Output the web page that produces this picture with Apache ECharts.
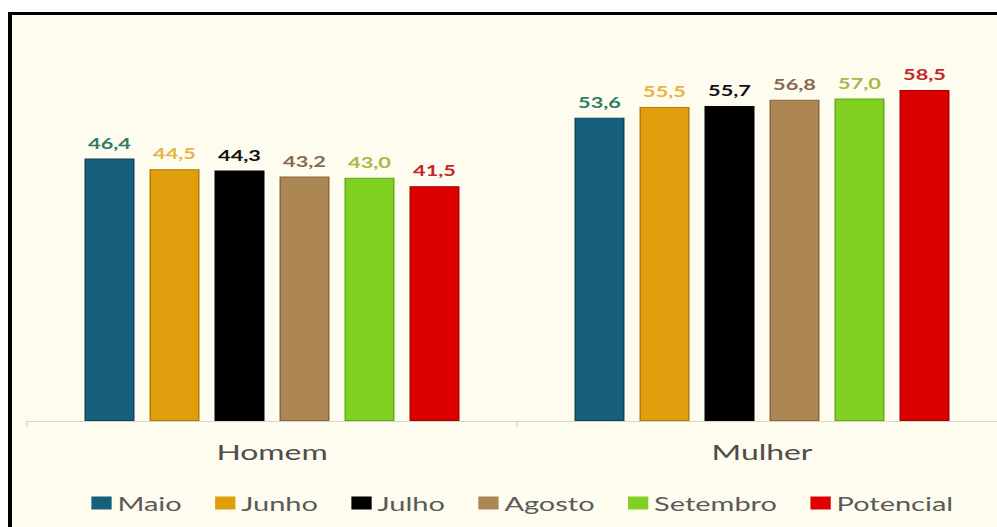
<!DOCTYPE html>
<html>
<head>
<meta charset="utf-8">
<script src="https://cdn.jsdelivr.net/npm/echarts@6/dist/echarts.min.js"></script>
<style>
  html, body { margin: 0; padding: 0; background: #ffffff; overflow: hidden; width: 997px; height: 527px; }
  #frame {
    position: absolute; left: 8px; top: 12px; right: -20px; bottom: -20px;
    border-left: 4px solid #000; border-top: 3px solid #000;
    background: #fefcef;
  }
  /* chart is laid out narrow and widened horizontally */
  #chart {
    position: absolute; left: 0; top: 0; width: 700px; height: 527px;
    transform: scaleX(1.45); transform-origin: 0 0;
  }
</style>
</head>
<body>
<div id="frame"></div>
<div id="chart"></div>
<script>
const categories = ['Homem', 'Mulher'];
const seriesNames = ['Maio', 'Junho', 'Julho', 'Agosto', 'Setembro', 'Potencial'];
const maio      = [46.4, 53.6];
const junho     = [44.5, 55.5];
const julho     = [44.3, 55.7];
const agosto    = [43.2, 56.8];
const setembro  = [43.0, 57.0];
const potencial = [41.5, 58.5];

const values = [maio, junho, julho, agosto, setembro, potencial];
const barColors   = ['#17607d', '#e19e0c', '#000000', '#ac8653', '#80d122', '#dc0000'];
const edgeColors  = ['#0c4257', '#b07a05', '#000000', '#866541', '#62a815', '#a80000'];
const labelColors = ['#2f7d66', '#e5b445', '#111111', '#86694c', '#a6b84a', '#c4262a'];

const S = 1.45;
const FONT = 'Lato, "Open Sans", sans-serif';

const chart = echarts.init(document.getElementById('chart'), null, { renderer: 'svg' });

chart.setOption({
  backgroundColor: 'transparent',
  animation: false,
  textStyle: { fontFamily: FONT },
  grid: { left: 27 / S, right: 700 - 27 / S - 980 / S, top: 25, bottom: 106 },
  legend: {
    data: seriesNames,
    left: 58,
    top: 488,
    itemWidth: 14,
    itemHeight: 13,
    itemGap: 23,
    icon: 'rect',
    itemStyle: { borderWidth: 0 },
    textStyle: { fontFamily: FONT, fontSize: 20, color: '#5a5a5a', padding: [0, 0, 0, -1] }
  },
  xAxis: {
    type: 'category',
    data: categories,
    axisLine: { lineStyle: { color: '#d8d6cc', width: 1 } },
    axisTick: { show: true, length: 6, lineStyle: { color: '#d8d6cc' } },
    axisLabel: { margin: 20, fontFamily: FONT, fontSize: 22, color: '#4d4d4d' }
  },
  yAxis: {
    type: 'value',
    min: 0,
    max: 70,
    show: false,
    splitLine: { show: false }
  },
  series: seriesNames.map((name, i) => ({
    name: name,
    type: 'bar',
    data: values[i],
    barWidth: 50 / S,
    barGap: '30%',
    itemStyle: { color: barColors[i], borderColor: edgeColors[i], borderWidth: 1 },
    label: {
      show: true,
      position: 'top',
      distance: 8,
      fontFamily: FONT,
      fontSize: 15,
      fontWeight: 'bold',
      color: labelColors[i],
      formatter: p => p.value.toFixed(1).replace('.', ',')
    }
  }))
});
</script>
</body>
</html>
